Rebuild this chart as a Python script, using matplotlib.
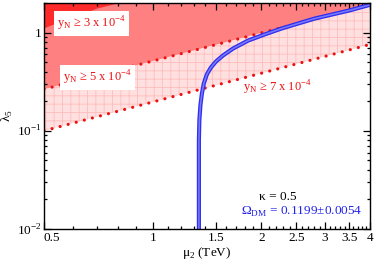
import numpy as np
import matplotlib.pyplot as plt
from matplotlib.ticker import FixedLocator, NullFormatter, LogLocator

plt.rcParams['font.family'] = ['Liberation Serif', 'DejaVu Serif']
plt.rcParams['mathtext.fontset'] = 'custom'
plt.rcParams['mathtext.rm'] = 'Liberation Serif'
plt.rcParams['hatch.linewidth'] = 0.6

# boundary lines (mu2 in TeV, lambda5)
upper_mu = [0.5, 4.0]
upper_lam = [0.265, 1.92]     # y_N >= 5e-4 boundary
lower_mu = [0.5, 4.0]
lower_lam = [0.1, 0.757]      # y_N >= 7e-4 boundary
dark_mu = [0.5, 0.56, 0.62, 0.7, 0.81]
dark_lam = [1.1, 1.3, 1.45, 1.75, 2.0]  # y_N >= 3e-4 edge

# relic density band
relic_mu = [1.343, 1.343, 1.347, 1.356, 1.369, 1.386, 1.413, 1.45, 1.498, 1.566,
            1.67, 1.838, 2.037, 2.272, 2.807, 3.491, 4.07]
relic_lam = [0.01, 0.08, 0.128, 0.1815, 0.24, 0.3035, 0.375, 0.441, 0.508, 0.584,
             0.688, 0.829, 0.954, 1.098, 1.387, 1.673, 1.95]

xticks = [0.5, 1, 1.5, 2, 2.5, 3, 3.5, 4]
xticklabels = ['0.5', '1', '1.5', '2', '2.5', '3', '3.5', '4']

fig = plt.figure(figsize=(3.74, 2.62), dpi=100)
ax = fig.add_axes([44 / 374, 1 - 229 / 262, 326 / 374, 226 / 262])
ax.set_xscale('log')
ax.set_yscale('log')
ax.set_xlim(0.5, 4.0)
ax.set_ylim(0.01, 2.0)

xs = np.array(upper_mu)
top = [2.0, 2.0]
# region between the two dotted lines
ax.fill_between(xs, lower_lam, upper_lam, facecolor='#ffe0e0', edgecolor='#ffbcbc',
                hatch='++', linewidth=0, zorder=1)
# above upper line
ax.fill_between(xs, upper_lam, top, facecolor='#ff8080', linewidth=0, zorder=1)
# dark corner
ax.fill_between(dark_mu, dark_lam, [2.0] * len(dark_mu), facecolor='#ff2a2a', linewidth=0, zorder=1.5)

for m, l in [(upper_mu, upper_lam), (lower_mu, lower_lam)]:
    ax.plot(m, l, color='#ee1111', lw=2.3, ls=(0, (0.01, 2.6)), dash_capstyle='round', zorder=2)

ax.plot(relic_mu, relic_lam, color='#3030ee', lw=3.0, zorder=3, solid_capstyle='butt')
ax.plot(relic_mu, relic_lam, color='#7a7aff', lw=1.1, zorder=3.1, solid_capstyle='butt')

box = dict(facecolor='white', edgecolor='none', boxstyle='square,pad=0.25')
ax.text(0.543, 1.233, 'y$_\\mathregular{N}$ ≥ 3 x 10$^\\mathregular{-4}$', color='#ee1111',
        fontsize=9, va='center', bbox=box, zorder=4)
ax.text(0.565, 0.349, 'y$_\\mathregular{N}$ ≥ 5 x 10$^\\mathregular{-4}$', color='#ee1111',
        fontsize=9, va='center', bbox=box, zorder=4)
ax.text(1.78, 0.272, 'y$_\\mathregular{N}$ ≥ 7 x 10$^\\mathregular{-4}$', color='#ee1111',
        fontsize=9, va='center', zorder=4)
ax.text(1.97, 0.0211, 'κ = 0.5', color='black', fontsize=9.5, va='center', zorder=4)
ax.text(1.757, 0.0149, 'Ω$_\\mathregular{DM}$ = 0.1199±0.0054', color='#2222ee',
        fontsize=9.5, va='center', zorder=4)

ax.xaxis.set_major_locator(FixedLocator(xticks))
ax.set_xticklabels(xticklabels)
ax.get_xticklabels()[0].set_horizontalalignment('left')
ax.xaxis.set_minor_locator(FixedLocator(np.arange(0.6, 4.0, 0.1)))
ax.xaxis.set_minor_formatter(NullFormatter())
ax.yaxis.set_major_locator(FixedLocator([0.01, 0.1, 1]))
ax.set_yticklabels(['10$^\\mathregular{-2}$', '10$^\\mathregular{-1}$', '1'])
ax.yaxis.set_minor_locator(LogLocator(base=10, subs=np.arange(2, 10)))
ax.yaxis.set_minor_formatter(NullFormatter())

ax.tick_params(which='both', direction='in', top=True, right=True, labelsize=9.5, width=0.9)
ax.tick_params(which='major', length=5, pad=2)
ax.tick_params(which='minor', length=2.5)
for s in ax.spines.values():
    s.set_linewidth(1.0)
    s.set_zorder(5)

ax.set_xlabel('μ$_\\mathregular{2}$ (TeV)', fontsize=9.5, labelpad=1)
ax.set_ylabel('λ$_\\mathregular{5}$', fontsize=9.5)
ax.yaxis.set_label_coords(-0.09, 0.5)

fig.savefig('out.png', dpi=100)
